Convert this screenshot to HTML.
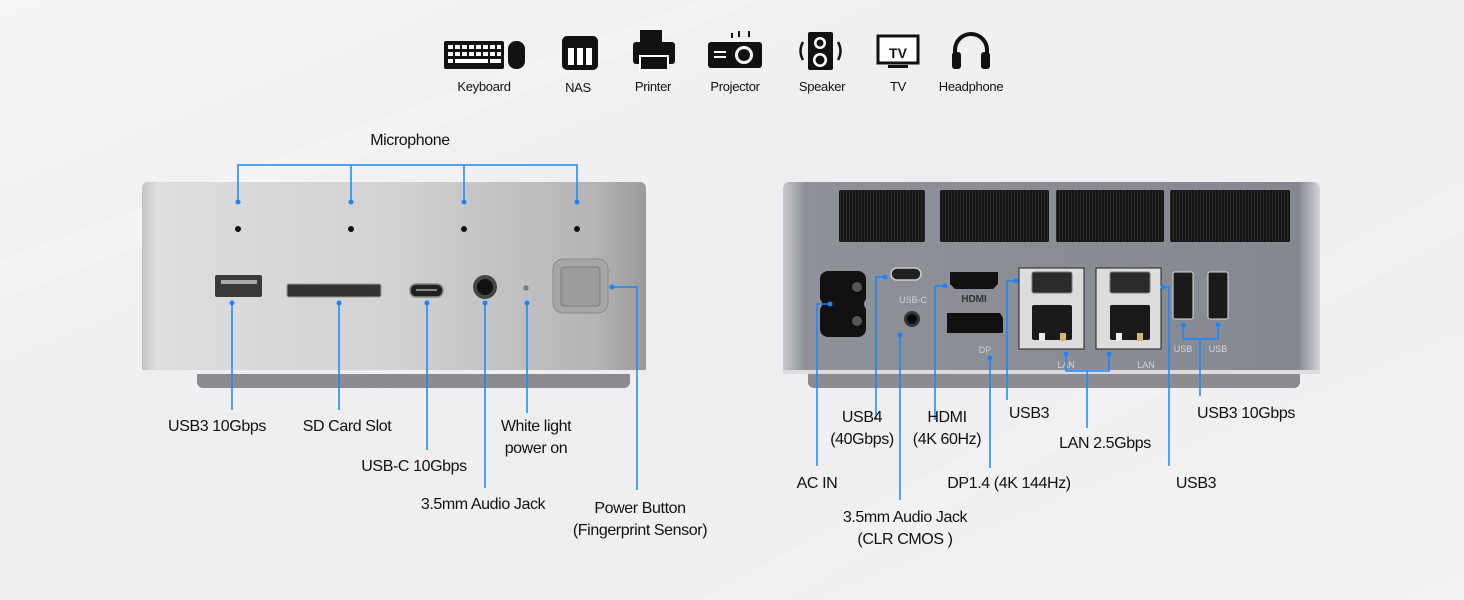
<!DOCTYPE html>
<html><head><meta charset="utf-8"><style>
html,body{margin:0;padding:0;background:#f1f1f3;}
svg{display:block}
text{font-family:"Liberation Sans",sans-serif;fill:#111}
</style></head><body>
<svg width="1464" height="600" viewBox="0 0 1464 600" xmlns="http://www.w3.org/2000/svg">
<defs>
<linearGradient id="bg" x1="0" y1="0" x2="1" y2="1">
<stop offset="0" stop-color="#f5f5f7"/><stop offset="0.5" stop-color="#eeeef0"/><stop offset="1" stop-color="#f3f3f5"/></linearGradient>
<linearGradient id="front" x1="0" y1="0" x2="1" y2="0">
<stop offset="0" stop-color="#c4c4c6"/><stop offset="0.03" stop-color="#dedee0"/><stop offset="0.5" stop-color="#d2d2d4"/><stop offset="0.9" stop-color="#b4b4b6"/><stop offset="1" stop-color="#9a9a9c"/></linearGradient>
<linearGradient id="rear" x1="0" y1="0" x2="1" y2="0">
<stop offset="0" stop-color="#c8c9cc"/><stop offset="0.04" stop-color="#8e9197"/><stop offset="0.5" stop-color="#8a8d94"/><stop offset="0.96" stop-color="#858890"/><stop offset="1" stop-color="#d4d5d8"/></linearGradient>
<pattern id="vent" width="3" height="4" patternUnits="userSpaceOnUse"><rect width="3" height="4" fill="#151515"/><rect width="1" height="4" fill="#2a2a2a"/></pattern>
</defs>
<rect width="1464" height="600" fill="url(#bg)"/>
<path d="M0 260 L700 0 L760 0 L0 300Z" fill="#fafafb" opacity="0.3"/>
<path d="M700 600 L1464 180 L1464 230 L780 600Z" fill="#fafafb" opacity="0.3"/>

<!-- top icons -->
<g fill="#111">
<rect x="444" y="41" width="60" height="28" rx="2"/>
<g fill="#fff"><rect x="448" y="45" width="5" height="4"/><rect x="455" y="45" width="5" height="4"/><rect x="462" y="45" width="5" height="4"/><rect x="469" y="45" width="5" height="4"/><rect x="476" y="45" width="5" height="4"/><rect x="483" y="45" width="5" height="4"/><rect x="490" y="45" width="5" height="4"/><rect x="497" y="45" width="4" height="4"/>
<rect x="448" y="52" width="5" height="4"/><rect x="455" y="52" width="5" height="4"/><rect x="462" y="52" width="5" height="4"/><rect x="469" y="52" width="5" height="4"/><rect x="476" y="52" width="5" height="4"/><rect x="483" y="52" width="5" height="4"/><rect x="490" y="52" width="5" height="4"/><rect x="497" y="52" width="4" height="4"/>
<rect x="448" y="59" width="5" height="4"/><rect x="455" y="59" width="33" height="4"/><rect x="490" y="59" width="11" height="4"/></g>
<rect x="508" y="41" width="17" height="28" rx="8"/>
<rect x="562" y="36" width="36" height="34" rx="5"/>
<g fill="#fff"><rect x="568" y="48" width="6" height="17"/><rect x="577" y="48" width="6" height="17"/><rect x="586" y="48" width="6" height="17"/></g>
<rect x="640" y="30" width="22" height="14"/><rect x="633" y="42" width="42" height="22" rx="3"/><rect x="640" y="56" width="28" height="14" fill="#111" stroke="#fff" stroke-width="2"/>
<rect x="708" y="42" width="54" height="26" rx="3"/><circle cx="744" cy="55" r="9" fill="#fff"/><circle cx="744" cy="55" r="6"/><rect x="714" y="51" width="12" height="2" fill="#fff"/><rect x="714" y="56" width="12" height="2" fill="#fff"/>
<rect x="738" y="31" width="2" height="6"/><rect x="748" y="31" width="2" height="6"/><rect x="731" y="33" width="2" height="5"/>
<rect x="808" y="32" width="25" height="38" rx="2"/><circle cx="820" cy="43" r="6" fill="#fff"/><circle cx="820" cy="43" r="3.5"/><circle cx="820" cy="60" r="7" fill="#fff"/><circle cx="820" cy="60" r="4.5"/>
<path d="M803 42 q-5 9 0 18" stroke="#111" stroke-width="2.5" fill="none"/><path d="M838 42 q5 9 0 18" stroke="#111" stroke-width="2.5" fill="none"/>
<rect x="878" y="36" width="40" height="27" fill="#fff" stroke="#111" stroke-width="3"/><rect x="888" y="65" width="20" height="3"/>
<path d="M955 58 v-8 a16 16 0 0 1 32 0 v8" stroke="#111" stroke-width="4" fill="none"/><rect x="952" y="52" width="9" height="17" rx="3"/><rect x="981" y="52" width="9" height="17" rx="3"/>
</g>
<text x="898" y="58" font-size="14" font-weight="bold" text-anchor="middle">TV</text>
<g font-size="13" text-anchor="middle" letter-spacing="-0.3">
<text x="484" y="91">Keyboard</text><text x="578" y="92">NAS</text><text x="653" y="91">Printer</text><text x="735" y="91">Projector</text><text x="822" y="91">Speaker</text><text x="898" y="91">TV</text><text x="971" y="91">Headphone</text>
</g>

<!-- front device -->
<rect x="197" y="365" width="433" height="23" rx="6" fill="#8c8c90"/>
<rect x="142" y="182" width="504" height="192" rx="6" fill="url(#front)"/>
<rect x="142" y="370" width="504" height="4" fill="#eeeeee"/>
<g fill="#111"><circle cx="238" cy="229" r="3"/><circle cx="351" cy="229" r="3"/><circle cx="464" cy="229" r="3"/><circle cx="577" cy="229" r="3"/></g>
<rect x="215" y="275" width="47" height="22" rx="2" fill="#3a3a3a"/><rect x="221" y="280" width="36" height="4" fill="#aaa"/>
<rect x="287" y="284" width="94" height="13" rx="2" fill="#333" stroke="#999"/>
<rect x="410" y="284" width="33" height="13" rx="6" fill="#222" stroke="#888" stroke-width="1.5"/><rect x="416" y="289" width="21" height="2" fill="#888"/>
<circle cx="485" cy="287" r="12" fill="#444"/><circle cx="485" cy="287" r="8" fill="#111"/>
<circle cx="526" cy="288" r="2" fill="#888" stroke="#666"/>
<rect x="553" y="259" width="55" height="54" rx="10" fill="#a6a6a8" stroke="#8a8a8c"/><rect x="561" y="267" width="39" height="39" rx="3" fill="#9c9c9e" stroke="#7e7e80"/>

<!-- rear device -->
<rect x="808" y="365" width="492" height="23" rx="6" fill="#8c8c90"/>
<rect x="783" y="182" width="537" height="192" rx="6" fill="url(#rear)"/>
<rect x="783" y="370" width="537" height="4" fill="#dcdcde"/>
<g fill="url(#vent)"><rect x="839" y="190" width="86" height="52" rx="2"/><rect x="940" y="190" width="109" height="52" rx="2"/><rect x="1056" y="190" width="108" height="52" rx="2"/><rect x="1170" y="190" width="120" height="52" rx="2"/></g>
<path d="M828 271 h30 a8 8 0 0 1 8 8 v20 q-4 5 0 10 v20 a8 8 0 0 1 -8 8 h-30 a8 8 0 0 1 -8 -8 v-20 q4 -5 0 -10 v-20 a8 8 0 0 1 8 -8z" fill="#111"/>
<circle cx="857" cy="287" r="5" fill="#555"/><circle cx="857" cy="321" r="5" fill="#555"/>
<rect x="891" y="268" width="30" height="12" rx="6" fill="#222" stroke="#ccc" stroke-width="1.5"/>
<text x="913" y="303" font-size="9" text-anchor="middle" style="fill:#d0d0d4">USB-C</text>
<circle cx="912" cy="319" r="8" fill="#333"/><circle cx="912" cy="319" r="5" fill="#0a0a0a"/>
<path d="M950 272 h48 v12 l-5 5 h-38 l-5 -5z" fill="#111"/>
<text x="974" y="302" font-size="10" font-weight="bold" text-anchor="middle" style="fill:#333">HDMI</text>
<path d="M947 313 h53 l3 5 v15 h-56z" fill="#111"/>
<text x="985" y="353" font-size="9" text-anchor="middle" style="fill:#d0d0d4">DP</text>
<g>
<rect x="1019" y="268" width="65" height="81" fill="#dcdcdc" stroke="#222"/>
<rect x="1032" y="272" width="40" height="21" rx="2" fill="#2a2a2a" stroke="#777"/>
<rect x="1032" y="305" width="40" height="35" rx="2" fill="#1a1a1a"/>
<rect x="1039" y="333" width="6" height="8" fill="#eee"/><rect x="1060" y="333" width="6" height="8" fill="#d9b36a"/>
<rect x="1096" y="268" width="65" height="81" fill="#dcdcdc" stroke="#222"/>
<rect x="1110" y="272" width="40" height="21" rx="2" fill="#2a2a2a" stroke="#777"/>
<rect x="1110" y="305" width="40" height="35" rx="2" fill="#1a1a1a"/>
<rect x="1116" y="333" width="6" height="8" fill="#eee"/><rect x="1137" y="333" width="6" height="8" fill="#d9b36a"/>
<rect x="1173" y="272" width="20" height="47" rx="2" fill="#1a1a1a" stroke="#ddd"/>
<rect x="1208" y="272" width="20" height="47" rx="2" fill="#1a1a1a" stroke="#ddd"/>
</g>
<g font-size="9" text-anchor="middle"><text x="1066" y="368" style="fill:#d6d6da">LAN</text><text x="1146" y="368" style="fill:#d6d6da">LAN</text><text x="1183" y="352" style="fill:#d6d6da">USB</text><text x="1218" y="352" style="fill:#d6d6da">USB</text></g>

<!-- connectors -->
<g stroke="#1a85ff" stroke-width="1.5" fill="none">
<path d="M238 202 V165 H577 V202 M351 165 V202 M464 165 V202"/>
<path d="M232 303 V410 M339 303 V410 M427 303 V450 M485 303 V488 M527 303 V413 M612 287 H637 V490"/>
<path d="M830 304 H817 V466 M885 277 H876 V420 M900 335 V500 M945 286 H935 V420 M990 358 V468 M1016 281 H1007 V400"/>
<path d="M1066 354 V371 H1109 V354 M1087 371 V428"/>
<path d="M1163 287 H1169 V466"/>
<path d="M1183 325 V339 H1218 V325 M1200 339 V396"/>
</g>
<g fill="#1a85ff">
<circle cx="238" cy="202" r="2.5"/><circle cx="351" cy="202" r="2.5"/><circle cx="464" cy="202" r="2.5"/><circle cx="577" cy="202" r="2.5"/>
<circle cx="232" cy="303" r="2.5"/><circle cx="339" cy="303" r="2.5"/><circle cx="427" cy="303" r="2.5"/><circle cx="485" cy="303" r="2.5"/><circle cx="527" cy="303" r="2.5"/><circle cx="612" cy="287" r="2.5"/>
<circle cx="830" cy="304" r="2.5"/><circle cx="885" cy="277" r="2.5"/><circle cx="900" cy="335" r="2.5"/><circle cx="945" cy="286" r="2.5"/><circle cx="990" cy="358" r="2.5"/><circle cx="1016" cy="281" r="2.5"/>
<circle cx="1066" cy="354" r="2.5"/><circle cx="1109" cy="354" r="2.5"/><circle cx="1163" cy="287" r="2.5"/><circle cx="1183" cy="325" r="2.5"/><circle cx="1218" cy="325" r="2.5"/>
</g>

<g font-size="16" text-anchor="middle" letter-spacing="-0.4">
<text x="410" y="145">Microphone</text>
<text x="217" y="431">USB3 10Gbps</text>
<text x="347" y="431">SD Card Slot</text>
<text x="414" y="471">USB-C 10Gbps</text>
<text x="483" y="509">3.5mm Audio Jack</text>
<text x="536" y="431">White light</text><text x="536" y="453">power on</text>
<text x="640" y="513">Power Button</text><text x="640" y="535">(Fingerprint Sensor)</text>
<text x="817" y="488">AC IN</text>
<text x="862" y="422">USB4</text><text x="862" y="444">(40Gbps)</text>
<text x="905" y="522">3.5mm Audio Jack</text><text x="905" y="544">(CLR CMOS )</text>
<text x="947" y="422">HDMI</text><text x="947" y="444">(4K 60Hz)</text>
<text x="1009" y="488">DP1.4 (4K 144Hz)</text>
<text x="1029" y="418">USB3</text>
<text x="1105" y="448">LAN 2.5Gbps</text>
<text x="1196" y="488">USB3</text>
<text x="1246" y="418">USB3 10Gbps</text>
</g>
</svg>
</body></html>
